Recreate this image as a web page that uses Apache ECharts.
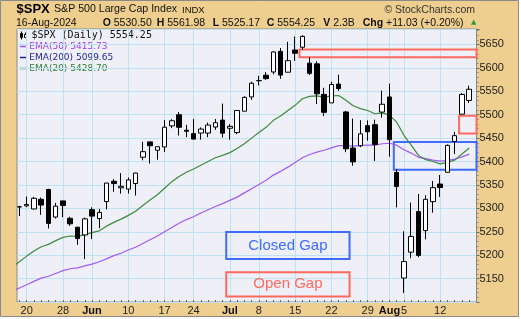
<!DOCTYPE html>
<html><head><meta charset="utf-8">
<script src="https://cdn.jsdelivr.net/npm/echarts@6/dist/echarts.min.js"></script>
<style>html,body{margin:0;padding:0;background:#fff}#c{width:521px;height:319px}</style>
</head><body><div id="c"></div>
<script>
// ---- data ----
const dates = ['May 16','May 17','May 20','May 21','May 22','May 23','May 24','May 28','May 29','May 30','May 31',
  'Jun 3','Jun 4','Jun 5','Jun 6','Jun 7','Jun 10','Jun 11','Jun 12','Jun 13','Jun 14','Jun 17','Jun 18','Jun 20','Jun 21',
  'Jun 24','Jun 25','Jun 26','Jun 27','Jun 28','Jul 1','Jul 2','Jul 3','Jul 5','Jul 8','Jul 9','Jul 10','Jul 11','Jul 12',
  'Jul 15','Jul 16','Jul 17','Jul 18','Jul 19','Jul 22','Jul 23','Jul 24','Jul 25','Jul 26','Jul 29','Jul 30','Jul 31',
  'Aug 1','Aug 2','Aug 5','Aug 6','Aug 7','Aug 8','Aug 9','Aug 12','Aug 13','Aug 14','Aug 15','Aug 16'];
const openP = [5310.07,5303.10,5305.35,5298.69,5319.28,5340.26,5281.45,5315.91,5278.73,5259.77,5243.21,
  5297.15,5278.24,5314.48,5357.80,5343.81,5341.22,5353.00,5409.13,5441.93,5424.08,5431.11,5476.15,5499.99,5466.77,
  5459.58,5460.73,5460.71,5473.59,5488.48,5471.08,5461.84,5507.44,5537.91,5572.75,5584.24,5591.26,5635.21,5590.76,
  5638.16,5644.09,5610.07,5608.56,5543.37,5525.23,5565.30,5505.84,5428.70,5433.67,5476.55,5478.73,5505.59,
  5537.84,5376.63,5151.14,5206.42,5293.13,5252.57,5314.28,5351.88,5376.98,5442.82,5501.13,5530.50];
const highP = [5325.49,5305.45,5325.32,5324.32,5323.18,5341.88,5311.65,5315.91,5282.27,5260.21,5280.33,
  5302.11,5298.80,5354.16,5362.35,5375.08,5365.79,5375.95,5441.93,5441.93,5432.39,5488.50,5490.38,5505.53,5478.31,
  5490.66,5472.88,5483.14,5490.81,5523.64,5479.55,5509.69,5539.27,5570.33,5583.11,5590.75,5635.39,5642.45,5655.56,
  5666.94,5669.67,5622.49,5614.05,5557.50,5570.36,5585.34,5508.04,5491.59,5488.32,5487.74,5489.46,5551.51,
  5566.16,5383.89,5250.89,5312.34,5330.64,5328.03,5358.24,5371.20,5436.50,5463.22,5546.23,5561.98];
const lowP = [5296.19,5283.59,5302.40,5297.87,5286.01,5256.93,5278.39,5280.89,5262.70,5222.10,5191.68,
  5234.32,5257.63,5297.64,5335.36,5331.33,5331.52,5327.25,5402.51,5395.66,5403.75,5420.40,5471.32,5455.56,5452.03,
  5447.59,5446.56,5451.87,5467.54,5451.12,5446.53,5458.43,5507.42,5531.63,5562.51,5574.57,5586.44,5576.53,5590.44,
  5614.75,5639.02,5584.81,5522.81,5497.04,5525.23,5550.90,5419.98,5390.95,5430.70,5444.44,5401.13,5493.75,
  5410.42,5302.03,5119.26,5193.56,5195.54,5233.85,5290.76,5324.37,5376.98,5415.89,5501.13,5525.17];
const closeP = [5297.10,5303.27,5308.13,5321.41,5307.01,5267.84,5304.72,5306.04,5266.95,5235.48,5277.51,
  5283.40,5291.34,5354.03,5352.96,5346.99,5360.79,5375.32,5421.03,5433.74,5431.60,5473.23,5487.03,5473.17,5464.62,
  5447.87,5469.30,5477.90,5482.87,5460.48,5475.09,5509.01,5537.02,5567.19,5572.85,5576.98,5633.91,5584.54,5615.35,
  5631.22,5667.20,5588.27,5544.59,5505.00,5564.41,5555.74,5427.13,5399.22,5459.10,5463.54,5436.44,5522.30,
  5446.68,5346.56,5186.33,5240.03,5199.50,5319.31,5344.16,5344.39,5434.43,5455.21,5543.22,5554.25];
const ema20 = [5175,5186,5198,5209,5218,5223,5231,5238,5241,5240,5244,5248,5252,5262,5270,5277,5285,5294,5306,5318,
  5329,5343,5357,5368,5377,5384,5392,5400,5408,5413,5419,5428,5438,5450,5462,5473,5488,5497,5509,5520,5534,5539,
  5540,5537,5540,5541,5531,5519,5513,5509,5502,5504,5499,5484,5456,5435,5413,5404,5400,5395,5398,5403,5416,5428.7];
const ema50 = [5123,5130,5137,5144,5151,5155,5161,5167,5171,5173,5177,5181,5186,5192,5199,5204,5211,5217,5225,5233,
  5241,5250,5259,5268,5276,5282,5290,5297,5304,5310,5317,5324,5333,5342,5351,5360,5371,5379,5388,5398,5408,5415,
  5420,5424,5429,5434,5434,5433,5434,5435,5435,5438,5439,5435,5425,5418,5409,5406,5403,5401,5402,5405,5410,5415.73];
const tickDates  = ['May 20','May 28','Jun 3','Jun 10','Jun 17','Jun 24','Jul 1','Jul 8','Jul 15','Jul 22','Jul 29','Aug 1','Aug 5','Aug 12'];
const tickLabels = ['20','28','Jun','10','17','24','Jul','8','15','22','29','Aug','5','12'];
const monthLabels = ['Jun','Jul','Aug'];
// annotation boxes in data units: [fromDate, toDate(or null = right edge), priceTop, priceBottom]
const gapBoxes = [
  {name:'openTop',  from:'Jul 15', to:null, top:5639, bottom:5622.5, kind:'open'},
  {name:'openRight',from:'Aug 14', to:null, top:5498, bottom:5460, kind:'open'},
  {name:'closed1',  from:'Aug 1',  to:null, top:5441.5, bottom:5382.5, kind:'closed'}
];
const keyBoxes = [
  {text:'Closed Gap', from:'Jun 28', to:'Jul 24', top:5249.5, bottom:5192, kind:'closed'},
  {text:'Open Gap',   from:'Jun 28', to:'Jul 24', top:5163.5, bottom:5112, kind:'open'}
];

// ---- chart ----
const xMin = 0.66, xMax = 64;
const edgeOff = 0.5;
const candleData = dates.map((d,i)=>[i, openP[i], closeP[i], lowP[i], highP[i]]);
const tickIdx = tickDates.map(d=>dates.indexOf(d));
const labelMap = {}; tickIdx.forEach((v,k)=>labelMap[v]=tickLabels[k]);
const allIdx = dates.map((d,i)=>i);
const colOpen = '#ff6a5e', colClosed = '#3f6bff';

function boxPair(b, label){
  const x0 = dates.indexOf(b.from) + edgeOff + (label ? 0 : 0.1);
  const x1 = b.to ? dates.indexOf(b.to) + edgeOff : xMax;
  const c = b.kind === 'open' ? colOpen : colClosed;
  return [{coord:[x0, b.top], itemStyle:{color:'rgba(0,0,0,0)', borderColor:c, borderWidth:2},
           label: label ? {show:true, position:'inside', formatter:label, color:c, fontSize:15, fontFamily:'Liberation Sans'} : {show:false}},
          {coord:[x1, b.bottom]}];
}

const font = '"Liberation Sans", Arial, sans-serif';
const rb = {b:{fontWeight:'bold', fontSize:10.5, fontFamily:'Liberation Sans'}};
const graphic = [
  {type:'rect', z:-10, shape:{x:0.5,y:0.5,width:518,height:316}, style:{fill:'#efcf8f', stroke:'#8a8a8a', lineWidth:1}, silent:true},
  {type:'text', x:16.5, y:9.5, style:{text:'$SPX', font:'bold 13px '+font, fill:'#000', verticalAlign:'middle'}},
  {type:'text', x:54, y:9.5, style:{text:'S&P 500 Large Cap Index', font:'10.6px '+font, fill:'#111', verticalAlign:'middle'}},
  {type:'text', x:182, y:10, style:{text:'INDX', font:'9.5px '+font, fill:'#111', verticalAlign:'middle'}},
  {type:'text', x:475, y:10, style:{text:'© StockCharts.com', font:'10.5px '+font, fill:'#333', align:'right', verticalAlign:'middle'}},
  {type:'text', x:16, y:22.8, style:{text:'16-Aug-2024', font:'10.5px '+font, fill:'#111', verticalAlign:'middle'}},
  {type:'text', x:102.7, y:22.8, style:{text:'{b|O} 5530.50', font:'10.5px '+font, fill:'#111', verticalAlign:'middle', rich:rb}},
  {type:'text', x:156.7, y:22.8, style:{text:'{b|H} 5561.98', font:'10.5px '+font, fill:'#111', verticalAlign:'middle', rich:rb}},
  {type:'text', x:212.7, y:22.8, style:{text:'{b|L} 5525.17', font:'10.5px '+font, fill:'#111', verticalAlign:'middle', rich:rb}},
  {type:'text', x:266.7, y:22.8, style:{text:'{b|C} 5554.25', font:'10.5px '+font, fill:'#111', verticalAlign:'middle', rich:rb}},
  {type:'text', x:323.3, y:22.8, style:{text:'{b|V} 2.3B', font:'10.5px '+font, fill:'#111', verticalAlign:'middle', rich:rb}},
  {type:'text', x:362.7, y:22.8, style:{text:'{b|Chg} +11.03 (+0.20%)', font:'10.5px '+font, fill:'#111', verticalAlign:'middle', rich:rb}},
  {type:'text', x:471, y:22.5, style:{text:'▲', font:'7px "DejaVu Sans"', fill:'#2e9a3a', verticalAlign:'middle'}},
  // legend
  {type:'rect', shape:{x:20.5,y:33.5,width:2,height:4}, style:{fill:'#000', stroke:'#000', lineWidth:1}},
  {type:'line', shape:{x1:21.5,y1:31.5,x2:21.5,y2:39.5}, style:{stroke:'#000', lineWidth:1}},
  {type:'rect', shape:{x:24.5,y:34.5,width:2,height:3}, style:{fill:'#fff', stroke:'#000', lineWidth:1}},
  {type:'line', shape:{x1:25.5,y1:32.5,x2:25.5,y2:34.5}, style:{stroke:'#000', lineWidth:1}},
  {type:'text', x:31.5, y:35.7, style:{text:'$SPX (Daily) 5554.25', font:'10px "DejaVu Sans Mono"', fill:'#111', verticalAlign:'middle'}},
  {type:'line', shape:{x1:20,y1:46.5,x2:27,y2:46.5}, style:{stroke:'#a050f0', lineWidth:1.5}},
  {type:'text', x:29.3, y:46.7, style:{text:'EMA(50) 5415.73', font:'9px "DejaVu Sans"', fill:'#9a3df0', verticalAlign:'middle'}},
  {type:'line', shape:{x1:20,y1:57.5,x2:27,y2:57.5}, style:{stroke:'#1f1f8f', lineWidth:1.5}},
  {type:'text', x:29.3, y:57.7, style:{text:'EMA(200) 5099.65', font:'9px "DejaVu Sans"', fill:'#1f1f8f', verticalAlign:'middle'}},
  {type:'line', shape:{x1:20,y1:68.5,x2:27,y2:68.5}, style:{stroke:'#2f7d2f', lineWidth:1.5}},
  {type:'text', x:29.3, y:68.7, style:{text:'EMA(20) 5428.70', font:'9px "DejaVu Sans"', fill:'#2f7d2f', verticalAlign:'middle'}}
];

const option = {
  animation:false,
  backgroundColor:'#ffffff',
  graphic: graphic,
  grid:{left:17, right:44.5, top:29, bottom:17, show:true, backgroundColor:'#eeeff7', borderColor:'#8a8a8a', borderWidth:1},
  xAxis:[{
    type:'value', min:xMin, max:xMax, position:'bottom',
    axisLine:{show:false},
    axisTick:{show:false, customValues:tickIdx},
    splitLine:{show:true, lineStyle:{color:'#bfe2f0', width:1}},
    axisLabel:{customValues:tickIdx, margin:3, fontSize:11, fontFamily:'Liberation Sans', color:'#222',
      formatter:v=>{const t=labelMap[Math.round(v)]||''; return monthLabels.includes(t)?'{b|'+t+'}':t;},
      rich:{b:{fontWeight:'bold', fontSize:11, fontFamily:'Liberation Sans', color:'#111'}}}
  },{
    type:'value', min:xMin, max:xMax, position:'bottom',
    axisLine:{show:false}, splitLine:{show:false}, axisLabel:{show:false},
    axisTick:{show:true, inside:true, length:2, customValues:allIdx, lineStyle:{color:'#666'}}
  }],
  yAxis:{
    type:'value', position:'right', min:5100, max:5683, interval:50,
    axisLine:{show:false},
    axisTick:{show:true, length:3, lineStyle:{color:'#666'}},
    minorTick:{show:true, splitNumber:5, length:2, lineStyle:{color:'#888'}},
    splitLine:{show:true, lineStyle:{color:'#bfe2f0', width:1}},
    axisLabel:{margin:3, fontSize:11, fontFamily:'Liberation Sans', color:'#222',
      formatter:v=>(v>=5150 && v<=5650 && v%50===0)?String(v):''}
  },
  series:[
    {type:'line', name:'EMA(50)', data:dates.map((d,i)=>[i, ema50[i]]), showSymbol:false, lineStyle:{color:'#a25cf2', width:1.2}, z:2},
    {type:'line', name:'EMA(20)', data:dates.map((d,i)=>[i, ema20[i]]), showSymbol:false, lineStyle:{color:'#3d8c3d', width:1.2}, z:2},
    {type:'candlestick', name:'$SPX', data:candleData, barWidth:5, z:3,
      itemStyle:{color:'#ffffff', color0:'#000000', borderColor:'#000000', borderColor0:'#000000', borderWidth:1}},
    {type:'line', name:'gaps', data:[], z:5,
      markArea:{silent:true, data: gapBoxes.map(b=>boxPair(b,null)).concat(keyBoxes.map(b=>boxPair(b,b.text)))}}
  ]
};
const chart = echarts.init(document.getElementById('c'), null, {renderer:'canvas'});
chart.setOption(option);
</script></body></html>
